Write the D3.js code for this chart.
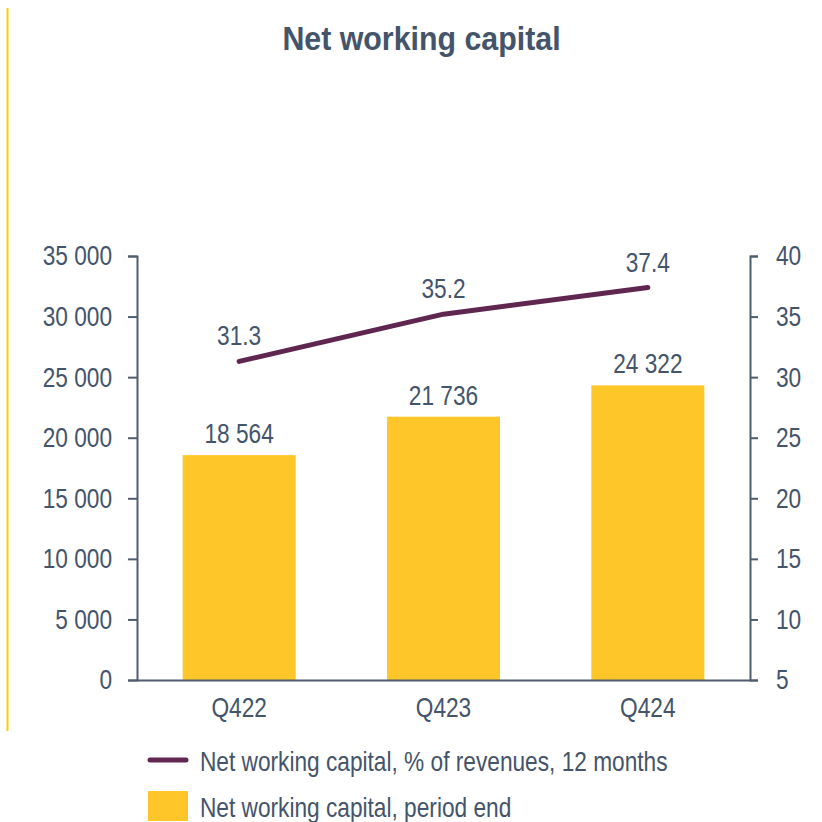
<!DOCTYPE html>
<html>
<head>
<meta charset="utf-8">
<script src="https://cdn.jsdelivr.net/npm/d3@7"></script>
<style>
  body { margin: 0; background: #fff; }
  text { font-family: "Liberation Sans", Arial, sans-serif; }
</style>
</head>
<body>
<div id="chart"></div>
<script>
// data
const quarters = ["Q422", "Q423", "Q424"];
const nwcValues = [18564, 21736, 24322];
const nwcPctRevenue = [31.3, 35.2, 37.4];
const leftTicks = [0, 5000, 10000, 15000, 20000, 25000, 30000, 35000];
const rightTicks = [5, 10, 15, 20, 25, 30, 35, 40];

const textColor = "#44546a", axisColor = "#4f5d6c";
const barColor = "#ffc629", lineColor = "#5f2650";
const fontSize = 28, squeeze = 0.81;   // fake a narrow font

const W = 822, H = 822;
const margin = {top: 256, right: 72, bottom: 142, left: 137};
const width = W - margin.left - margin.right,
      height = H - margin.top - margin.bottom;

// squeeze text horizontally, keeping its anchor point in place
function narrow(sel, k = squeeze) {
  sel.each(function() {
    const t = d3.select(this);
    const x = +t.attr("x") || 0;
    t.attr("x", x / k).attr("transform", `scale(${k},1)`);
  });
}

const svg = d3.select("#chart").append("svg")
    .attr("width", W).attr("height", H);

// yellow accent line on the left
svg.append("line")
    .attr("x1", 7.5).attr("x2", 7.5).attr("y1", 8).attr("y2", 731)
    .attr("stroke", "#ffcc00").attr("stroke-width", 2);

svg.append("text")
    .attr("x", 421.5).attr("y", 50)
    .attr("text-anchor", "middle")
    .attr("fill", textColor)
    .attr("font-size", 33).attr("font-weight", "bold")
    .text("Net working capital")
    .call(narrow, 0.92);

const g = svg.append("g").attr("transform", `translate(${margin.left},${margin.top})`);

const x = d3.scaleBand().domain(quarters).range([0, width]).paddingInner(0.447).paddingOuter(0.2235);
const yL = d3.scaleLinear().domain([0, 35000]).range([height, 0]);
const yR = d3.scaleLinear().domain([5, 40]).range([height, 0]);

const fmt = n => d3.format(",")(n).replace(/,/g, " ");

// bars
g.selectAll(".bar").data(quarters).enter().append("rect")
    .attr("x", d => x(d))
    .attr("y", (d, i) => yL(nwcValues[i]))
    .attr("width", x.bandwidth())
    .attr("height", (d, i) => height - yL(nwcValues[i]))
    .attr("fill", barColor);

g.selectAll(".barlabel").data(quarters).enter().append("text")
    .attr("x", d => x(d) + x.bandwidth() / 2)
    .attr("y", (d, i) => yL(nwcValues[i]) - 12)
    .attr("text-anchor", "middle")
    .attr("fill", textColor).attr("font-size", fontSize)
    .text((d, i) => fmt(nwcValues[i]))
    .call(narrow);

// axes
function styleAxis(sel) {
  sel.attr("font-family", null).attr("font-size", null);
  sel.select(".domain").attr("stroke", axisColor).attr("stroke-width", 2);
  sel.selectAll(".tick line").attr("stroke", axisColor).attr("stroke-width", 2);
  sel.selectAll(".tick text").attr("fill", textColor).attr("font-size", fontSize).call(narrow);
}

g.append("g")
    .call(d3.axisLeft(yL).tickValues(leftTicks).tickSize(9).tickSizeOuter(9).tickPadding(16).tickFormat(fmt))
    .call(styleAxis);

g.append("g")
    .attr("transform", `translate(${width},0)`)
    .call(d3.axisRight(yR).tickValues(rightTicks).tickSize(8).tickSizeOuter(8).tickPadding(18))
    .call(styleAxis);

g.append("g")
    .attr("transform", `translate(0,${height})`)
    .call(d3.axisBottom(x).tickSize(0).tickPadding(17))
    .call(styleAxis);

// line
const line = d3.line()
    .x((d, i) => x(quarters[i]) + x.bandwidth() / 2)
    .y(d => yR(d));

g.append("path")
    .datum(nwcPctRevenue)
    .attr("d", line)
    .attr("fill", "none")
    .attr("stroke", lineColor)
    .attr("stroke-width", 5)
    .attr("stroke-linecap", "round")
    .attr("stroke-linejoin", "round");

g.selectAll(".linelabel").data(nwcPctRevenue).enter().append("text")
    .attr("x", (d, i) => x(quarters[i]) + x.bandwidth() / 2)
    .attr("y", d => yR(d) - 16)
    .attr("text-anchor", "middle")
    .attr("fill", textColor).attr("font-size", fontSize)
    .text(d => d.toFixed(1))
    .call(narrow);

// legend
const legend = svg.append("g");
legend.append("line")
    .attr("x1", 150).attr("x2", 186).attr("y1", 760).attr("y2", 760)
    .attr("stroke", lineColor).attr("stroke-width", 5).attr("stroke-linecap", "round");
legend.append("text")
    .attr("x", 200).attr("y", 771)
    .attr("fill", textColor).attr("font-size", fontSize)
    .text("Net working capital, % of revenues, 12 months")
    .call(narrow);
legend.append("rect")
    .attr("x", 148).attr("y", 791).attr("width", 40).attr("height", 30)
    .attr("fill", barColor);
legend.append("text")
    .attr("x", 200).attr("y", 817)
    .attr("fill", textColor).attr("font-size", fontSize)
    .text("Net working capital, period end")
    .call(narrow);
</script>
</body>
</html>
